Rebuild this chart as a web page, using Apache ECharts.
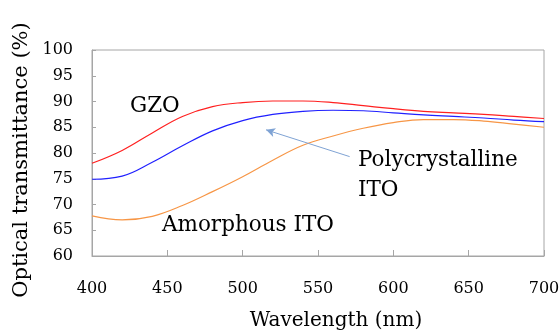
<!DOCTYPE html>
<html>
<head>
<meta charset="utf-8">
<script src="https://cdn.jsdelivr.net/npm/echarts@6/dist/echarts.min.js"></script>
<style>
  html, body { margin: 0; padding: 0; background: #fff; }
  #chart { width: 560px; height: 333px; }
</style>
</head>
<body>
<div id="chart"></div>
<script>
// wavelength (nm)
const wavelengths = [400, 420, 440, 460, 480, 500, 520, 540, 560, 580, 600, 620, 640, 660, 680, 700]
// transmittance (%)
const gzo = [78.0, 80.5, 83.9, 87.1, 89.0, 89.8, 90.1, 90.1, 89.8, 89.2, 88.6, 88.1, 87.8, 87.5, 87.1, 86.7]
const polyIto = [74.9, 75.5, 78.2, 81.4, 84.3, 86.3, 87.5, 88.1, 88.3, 88.2, 87.8, 87.4, 87.1, 86.8, 86.4, 86.1]
const amorphousIto = [67.8, 67.0, 67.7, 69.8, 72.5, 75.4, 78.6, 81.5, 83.3, 84.8, 85.9, 86.5, 86.5, 86.2, 85.6, 85.0]

const xTicks = { min: 400, max: 700, interval: 50 }
const yTicks = { min: 60, max: 100, interval: 5 }

const font = 'DejaVu Serif'
const axisGray = '#a6a6a6'

const toPairs = (vals) => wavelengths.map((w, i) => [w, vals[i]])

const chart = echarts.init(document.getElementById('chart'), null, { renderer: 'canvas' })

const lineSeries = (name, vals, color) => ({
  name,
  type: 'line',
  data: toPairs(vals),
  smooth: 0.4,
  showSymbol: false,
  lineStyle: { color, width: 1.2 },
  z: 3
})

const option = {
  animation: false,
  backgroundColor: '#fff',
  grid: {
    left: 92, right: 16, top: 50, bottom: 77,
    containLabel: false,
    outerBoundsMode: 'none',
    show: true, borderColor: axisGray, borderWidth: 1
  },
  xAxis: {
    type: 'value',
    min: xTicks.min, max: xTicks.max, interval: xTicks.interval,
    name: 'Wavelength (nm)',
    nameLocation: 'middle',
    nameGap: 55,
    nameTextStyle: { fontFamily: font, fontSize: 20, color: '#000', padding: [0, 0, 0, 36] },
    axisLine: { lineStyle: { color: axisGray } },
    axisTick: { inside: true, length: 6, lineStyle: { color: axisGray } },
    axisLabel: { fontFamily: font, fontSize: 16, color: '#000', margin: 25 },
    splitLine: { show: false }
  },
  yAxis: {
    type: 'value',
    min: yTicks.min, max: yTicks.max, interval: yTicks.interval,
    name: 'Optical transmittance (%)',
    nameLocation: 'middle',
    nameGap: 54,
    nameTextStyle: { fontFamily: font, fontSize: 21, color: '#000', padding: [0, 14, 0, 0] },
    axisLine: { show: true, lineStyle: { color: axisGray } },
    axisTick: { show: true, inside: true, length: 4, lineStyle: { color: axisGray } },
    axisLabel: { fontFamily: font, fontSize: 16, color: '#000', margin: 19 },
    splitLine: { show: false }
  },
  series: [
    lineSeries('GZO', gzo, '#ff2020'),
    lineSeries('Polycrystalline ITO', polyIto, '#2020ff'),
    Object.assign(lineSeries('Amorphous ITO', amorphousIto, '#f79646'), {
      markLine: {
        silent: true,
        symbol: ['none', 'arrow'],
        symbolSize: [7, 9],
        label: { show: false },
        lineStyle: { color: '#7fa3d4', width: 1, type: 'solid' },
        data: [[{ coord: [571, 79.3] }, { coord: [515.5, 84.5] }]]
      }
    })
  ],
  graphic: [
    { type: 'text', left: 130, top: 95, style: { text: 'GZO', font: '21.5px "DejaVu Serif"', fill: '#000' } },
    { type: 'text', left: 162, top: 214, style: { text: 'Amorphous ITO', font: '21.5px "DejaVu Serif"', fill: '#000' } },
    { type: 'text', left: 358, top: 145, style: { text: 'Polycrystalline\nITO', font: '21.5px "DejaVu Serif"', lineHeight: 30, fill: '#000' } }
  ]
}

chart.setOption(option)
</script>
</body>
</html>
